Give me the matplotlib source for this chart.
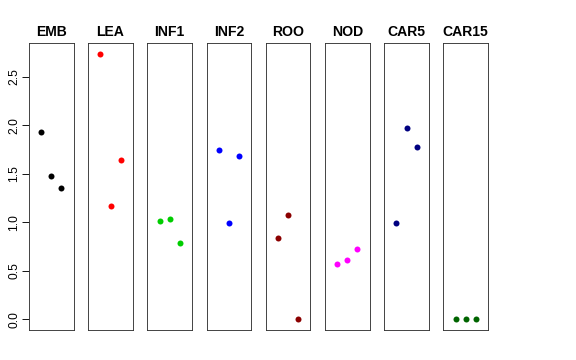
import matplotlib
matplotlib.use("Agg")
import matplotlib.pyplot as plt

plt.rcParams['font.family'] = ['Liberation Sans', 'DejaVu Sans']

categories = ["EMB", "LEA", "INF1", "INF2", "ROO", "NOD", "CAR5", "CAR15"]
colors = ["#000000", "#FF0000", "#00CD00", "#0000FF", "#8B0000", "#FF00FF", "#000080", "#006400"]
emb = [1.934, 1.48, 1.35]
lea = [2.737, 1.166, 1.646]
inf1 = [1.015, 1.029, 0.785]
inf2 = [1.74, 0.995, 1.68]
roo = [0.84, 1.08, 0.0]
nod = [0.573, 0.61, 0.723]
car5 = [0.99, 1.975, 1.78]
car15 = [0.0, 0.0, 0.0]
series = [emb, lea, inf1, inf2, roo, nod, car5, car15]
yticks = [0.0, 0.5, 1.0, 1.5, 2.0, 2.5]
ytick_labels = ["0.0", "0.5", "1.0", "1.5", "2.0", "2.5"]

W, H = 576, 360
fig = plt.figure(figsize=(W / 72, H / 72), dpi=72)

ymin, ymax = -0.109, 2.846
left0, step, width = 29, 59.2, 44.6
bottom_px, top_px = 330, 43

for i, (name, vals, col) in enumerate(zip(categories, series, colors)):
    l = left0 + step * i
    ax = fig.add_axes([l / W, (H - bottom_px) / H, width / W, (bottom_px - top_px) / H])
    ax.plot([1, 2, 3], vals, 'o', color=col, markersize=6, markeredgewidth=0)
    ax.set_xlim(-0.2, 4.2)
    ax.set_ylim(ymin, ymax)
    ax.set_xticks([])
    for s in ax.spines.values():
        s.set_linewidth(0.9)
        s.set_color("#333333")
    ax.set_title(name, fontsize=14, fontweight='bold', pad=7)
    if i == 0:
        ax.set_yticks(yticks)
        ax.set_yticklabels(ytick_labels, rotation=90, va='center', fontsize=12)
        ax.tick_params(axis='y', length=7, width=0.9, pad=2)
    else:
        ax.set_yticks([])

fig.savefig("out.png", dpi=72)
